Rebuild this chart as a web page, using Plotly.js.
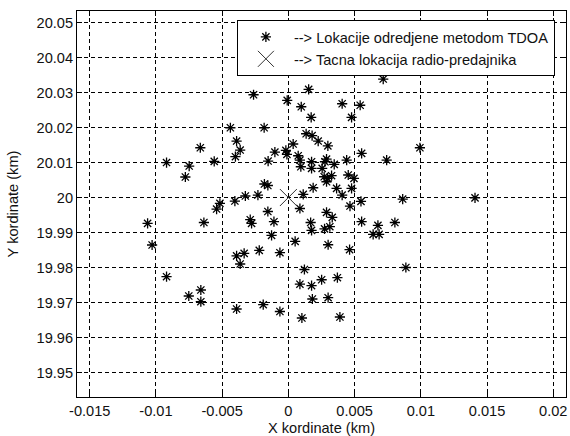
<!DOCTYPE html>
<html>
<head>
<meta charset="utf-8">
<script src="https://cdn.plot.ly/plotly-3.0.1.min.js"></script>
<style>html,body{margin:0;padding:0;background:#fff;}#chart{width:570px;height:436px;}</style>
</head>
<body>
<div id="chart"></div>
<script>
// TDOA estimated locations (km)
const tdoaX = [
  -0.01063, -0.01029, -0.00920, -0.00752, -0.00661, -0.00661, -0.00638, -0.00920, -0.00778, -0.00749,
  -0.00665, -0.00560, -0.00438, -0.00391, -0.00364, -0.00400, -0.00263, -0.00183, -0.00153, -0.00102,
  -0.00019, -0.00011, -0.00009, -0.00181, -0.00155, -0.00325, -0.00230, -0.00404, -0.00517, -0.00542,
  -0.00155, -0.00288, -0.00278, -0.00109, -0.00127, -0.00391, -0.00334, -0.00364, -0.00220, -0.00064,
  -0.00391, -0.00190, -0.00064,
  0.00087, 0.00288, 0.00331, 0.00168, 0.00175, 0.00273, 0.00313, 0.00553, 0.00676, 0.00640,
  0.00685, 0.00804, 0.00051, 0.00300, 0.00462, 0.00887, 0.00121, 0.00087, 0.00175, 0.00251,
  0.00370, 0.00181, 0.00300, 0.00102, 0.00389,
  0.00716, 0.00153, 0.00097, 0.00406, 0.00542, 0.00172, 0.00477, 0.00134, 0.00179, 0.00225,
  0.00298, 0.00036, 0.00074, 0.00087, 0.00094, 0.00175, 0.00175, 0.00288, 0.00276, 0.00346,
  0.00255, 0.00270, 0.00296, 0.00288, 0.00326, 0.00440, 0.00553, 0.00452, 0.00495, 0.00742,
  0.00993, 0.00187, 0.00112, 0.00364, 0.00406, 0.00477, 0.00465, 0.00548, 0.00863, 0.01409
];
const tdoaY = [
  19.99263, 19.98643, 19.97737, 19.97186, 19.97357, 19.97023, 19.99286, 20.01000, 20.00586, 20.00900,
  20.01423, 20.01034, 20.01994, 20.01614, 20.01357, 20.01166, 20.02937, 20.01994, 20.01043, 20.01300,
  20.01349, 20.01234, 20.02777, 20.00386, 20.00343, 20.00043, 20.00071, 19.99900, 19.99834, 19.99671,
  19.99600, 19.99366, 19.99263, 19.99309, 19.98920, 19.98334, 19.98406, 19.98100, 19.98491, 19.98423,
  19.96814, 19.96937, 19.96743,
  19.99686, 19.99577, 19.99434, 19.99286, 19.99063, 19.99106, 19.99166, 19.99309, 19.99206, 19.98949,
  19.98949, 19.99286, 19.98749, 19.98651, 19.98509, 19.98000, 19.97943, 19.97523, 19.97480, 19.97651,
  19.97709, 19.97100, 19.97137, 19.96557, 19.96586,
  20.03386, 20.03091, 20.02594, 20.02680, 20.02637, 20.02291, 20.02291, 20.01823, 20.01771, 20.01614,
  20.01477, 20.01529, 20.01194, 20.01071, 20.00880, 20.01023, 20.00834, 20.01100, 20.01023, 20.00949,
  20.00834, 20.00594, 20.00549, 20.00451, 20.00623, 20.01071, 20.01263, 20.00643, 20.00549, 20.01071,
  20.01423, 20.00280, 20.00091, 20.00263, 20.00071, 20.00263, 19.99757, 19.99891, 19.99957, 19.99990
];
// True transmitter location
const trueX = [0];
const trueY = [20];

const seriesNames = ['--> Lokacije odredjene metodom TDOA', '--> Tacna lokacija radio-predajnika'];
const xTickVals = [-0.015, -0.01, -0.005, 0, 0.005, 0.01, 0.015, 0.02];
const xTickText = ['-0.015', '-0.01', '-0.005', '0', '0.005', '0.01', '0.015', '0.02'];
const yTickVals = [19.95, 19.96, 19.97, 19.98, 19.99, 20, 20.01, 20.02, 20.03, 20.04, 20.05];
const yTickText = ['19.95', '19.96', '19.97', '19.98', '19.99', '20', '20.01', '20.02', '20.03', '20.04', '20.05'];

const font = {family: 'Arial, "Liberation Sans", sans-serif', size: 14.6, color: '#111'};

const traces = [
  {
    x: tdoaX, y: tdoaY, type: 'scatter', mode: 'markers', name: seriesNames[0],
    marker: {symbol: 'asterisk-open', size: 8.5, color: '#000', line: {color: '#000', width: 1.3}}
  },
  {
    x: trueX, y: trueY, type: 'scatter', mode: 'markers', name: seriesNames[1],
    marker: {symbol: 'x-thin-open', size: 17, color: '#333', line: {color: '#333', width: 1}}
  }
];

const axisCommon = {
  showline: true, linecolor: '#000', linewidth: 1, mirror: 'ticks',
  ticks: 'inside', ticklen: 5, tickcolor: '#000', tickwidth: 1,
  showgrid: true, gridcolor: '#000', gridwidth: 1, griddash: '4px,3px',
  zeroline: false, automargin: false, tickfont: font
};

const layout = {
  width: 570, height: 436,
  margin: {l: 77, r: 4, t: 11, b: 39},
  paper_bgcolor: '#fff', plot_bgcolor: '#fff',
  font: font,
  showlegend: true,
  legend: {
    x: 0.327, y: 0.977, xanchor: 'left', yanchor: 'top',
    bgcolor: '#fff', bordercolor: '#000', borderwidth: 1,
    font: font, itemwidth: 46, tracegroupgap: 0
  },
  xaxis: Object.assign({}, axisCommon, {
    range: [-0.01596, 0.02096], tickmode: 'array', tickvals: xTickVals, ticktext: xTickText,
    title: {text: 'X kordinate (km)', font: font, standoff: 5}
  }),
  yaxis: Object.assign({}, axisCommon, {
    range: [19.943, 20.0533], tickmode: 'array', tickvals: yTickVals, ticktext: yTickText,
    title: {text: 'Y kordinate (km)', font: font, standoff: 14}
  })
};

Plotly.newPlot('chart', traces, layout, {displayModeBar: false, staticPlot: true});
</script>
</body>
</html>
